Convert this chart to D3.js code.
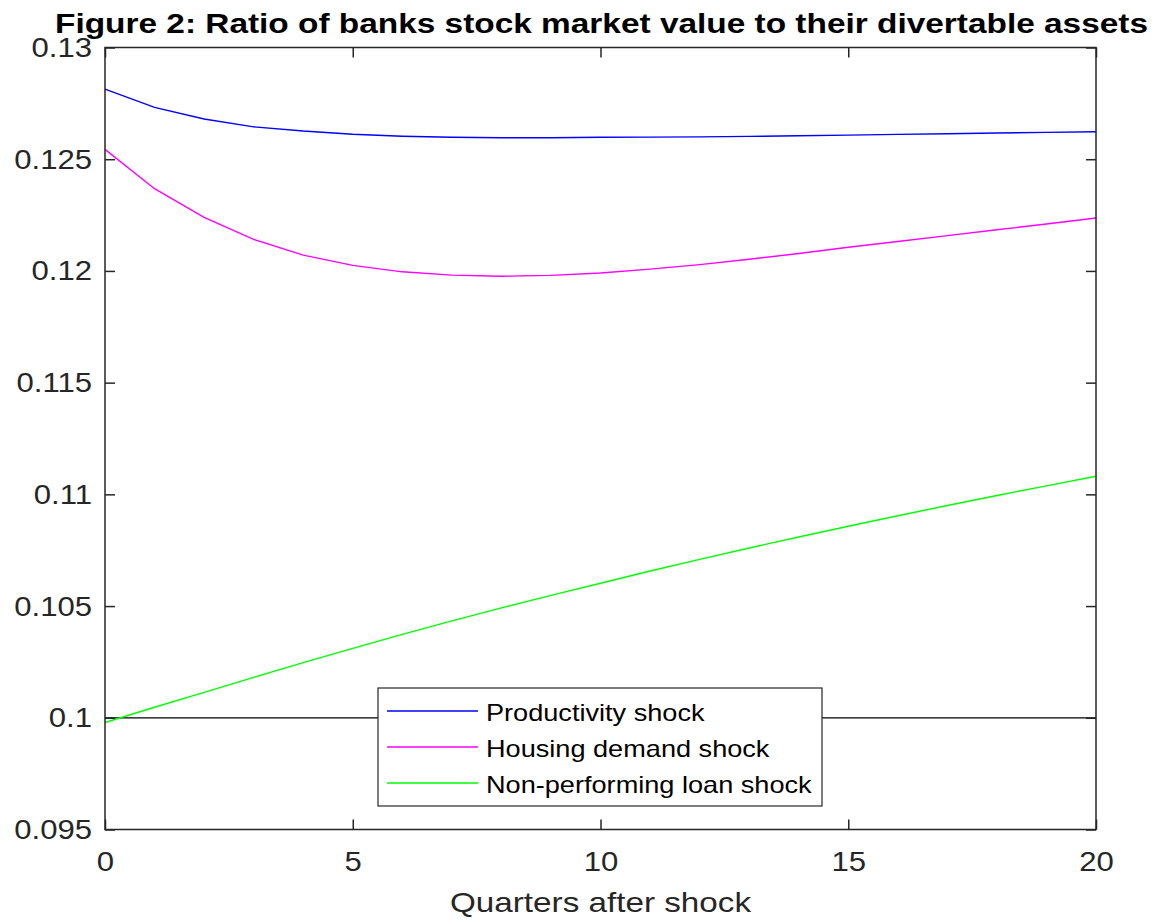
<!DOCTYPE html>
<html>
<head>
<meta charset="utf-8">
<script src="https://cdn.jsdelivr.net/npm/d3@7"></script>
<style>
  html, body { margin: 0; padding: 0; background: #fff; }
  svg { display: block; font-family: Arial, "Liberation Sans", Helvetica, sans-serif; }
</style>
</head>
<body>
<svg id="chart" width="1152" height="920"></svg>
<script>
// Quarters after the shock
const quarters = d3.range(0, 21);

// Ratio of banks' stock market value to divertable assets, per shock
const productivity = [0.12814, 0.12732, 0.12680, 0.12645, 0.12626, 0.12612, 0.12603, 0.12598, 0.12596, 0.12596,
  0.12598, 0.12599, 0.12600, 0.12602, 0.12605, 0.12608, 0.12611, 0.12614, 0.12617, 0.12620, 0.12623];
const housingDemand = [0.12544, 0.12368, 0.12240, 0.12141, 0.12071, 0.12025, 0.11996, 0.11981, 0.11976, 0.11980,
  0.11991, 0.12008, 0.12028, 0.12052, 0.12078, 0.12106, 0.12132, 0.12158, 0.12184, 0.12210, 0.12237];
const nonPerforming = [0.09979, 0.10047, 0.10114, 0.10181, 0.10247, 0.10311, 0.10373, 0.10434, 0.10492, 0.10548,
  0.10602, 0.10657, 0.10709, 0.10760, 0.10809, 0.10857, 0.10904, 0.10950, 0.10995, 0.11038, 0.11081];

const seriesNames = ["Productivity shock", "Housing demand shock", "Non-performing loan shock"];
const seriesColors = ["#0000ff", "#ff00ff", "#00ff00"];

const xTicks = [0, 5, 10, 15, 20];
const yTicks = [0.095, 0.1, 0.105, 0.11, 0.115, 0.12, 0.125, 0.13];
const yTickLabels = ["0.095", "0.1", "0.105", "0.11", "0.115", "0.12", "0.125", "0.13"];
const baselineValue = 0.1;

const titleText = "Figure 2: Ratio of banks stock market value to their divertable assets";
const xLabelText = "Quarters after shock";

const svg = d3.select("#chart");
const margin = { left: 105, right: 1096, top: 47.5, bottom: 829.5 };

const x = d3.scaleLinear().domain([0, 20]).range([margin.left, margin.right]);
const y = d3.scaleLinear().domain([0.095, 0.13]).range([margin.bottom, margin.top]);

const axisColor = "#262626";
const tickLen = 10;

// The export font is a little wider than Arial; stretch glyphs horizontally.
function widen(sel, factor) {
  sel.each(function () {
    const w = this.getComputedTextLength();
    d3.select(this).attr("textLength", w * factor).attr("lengthAdjust", "spacingAndGlyphs");
  });
}

// Baseline reference line
svg.append("line")
  .attr("x1", x(0)).attr("x2", x(20))
  .attr("y1", y(baselineValue)).attr("y2", y(baselineValue))
  .attr("stroke", "#000").attr("stroke-width", 1.2);

// Series lines
const series = [productivity, housingDemand, nonPerforming];
const line = d3.line().x((d, i) => x(quarters[i])).y(d => y(d));
series.forEach((vals, k) => {
  svg.append("path")
    .datum(vals)
    .attr("fill", "none")
    .attr("stroke", seriesColors[k])
    .attr("stroke-width", 1.4)
    .attr("d", line);
});

// Axes (ticks pointing inward, mirrored on top and right)
const fmtY = (d) => yTickLabels[yTicks.indexOf(d)];
const styleAxis = (g) => {
  g.select(".domain").remove();
  g.selectAll(".tick line").attr("stroke", axisColor).attr("stroke-width", 1.5);
  g.selectAll(".tick text").attr("fill", "#262626").style("font-size", "28px").style("font-family", "Arial, 'Liberation Sans', sans-serif");
};

svg.append("g")
  .attr("transform", `translate(0,${margin.bottom})`)
  .call(d3.axisBottom(x).tickValues(xTicks).tickSizeInner(-tickLen).tickSizeOuter(0).tickPadding(22))
  .call(styleAxis)
  .call(g => widen(g.selectAll(".tick text"), 1.11));

svg.append("g")
  .attr("transform", `translate(0,${margin.top})`)
  .call(d3.axisTop(x).tickValues(xTicks).tickSizeInner(-tickLen).tickSizeOuter(0).tickFormat(""))
  .call(styleAxis);

svg.append("g")
  .attr("transform", `translate(${margin.left},0)`)
  .call(d3.axisLeft(y).tickValues(yTicks).tickFormat(fmtY).tickSizeInner(-tickLen).tickSizeOuter(0).tickPadding(13))
  .call(styleAxis)
  .call(g => widen(g.selectAll(".tick text"), 1.11));

svg.append("g")
  .attr("transform", `translate(${margin.right},0)`)
  .call(d3.axisRight(y).tickValues(yTicks).tickSizeInner(-tickLen).tickSizeOuter(0).tickFormat(""))
  .call(styleAxis);

// Plot frame
svg.append("rect")
  .attr("x", margin.left).attr("y", margin.top)
  .attr("width", margin.right - margin.left).attr("height", margin.bottom - margin.top)
  .attr("fill", "none").attr("stroke", axisColor).attr("stroke-width", 1.5);

// Title
svg.append("text")
  .attr("x", 601.5)
  .attr("y", 33)
  .attr("text-anchor", "middle")
  .style("font-weight", "bold")
  .style("font-size", "28px")
  .attr("fill", "#000")
  .attr("textLength", 1093)
  .attr("lengthAdjust", "spacingAndGlyphs")
  .text(titleText);

// X axis label
svg.append("text")
  .attr("x", (margin.left + margin.right) / 2)
  .attr("y", 912)
  .attr("text-anchor", "middle")
  .style("font-size", "28px")
  .attr("fill", "#262626")
  .attr("textLength", 301)
  .attr("lengthAdjust", "spacingAndGlyphs")
  .text(xLabelText);

// Legend
const legend = svg.append("g");
legend.append("rect")
  .attr("x", 378).attr("y", 688)
  .attr("width", 444).attr("height", 118)
  .attr("fill", "#fff").attr("stroke", axisColor).attr("stroke-width", 1.2);

const rowY = [711, 747, 783];
seriesNames.forEach((name, k) => {
  legend.append("line")
    .attr("x1", 387).attr("x2", 478)
    .attr("y1", rowY[k]).attr("y2", rowY[k])
    .attr("stroke", seriesColors[k]).attr("stroke-width", 1.4);
  legend.append("text")
    .attr("x", 486).attr("y", rowY[k] + 10)
    .style("font-size", "24px")
    .attr("fill", "#000")
    .text(name)
    .call(t => widen(t, 1.13));
});
</script>
</body>
</html>
